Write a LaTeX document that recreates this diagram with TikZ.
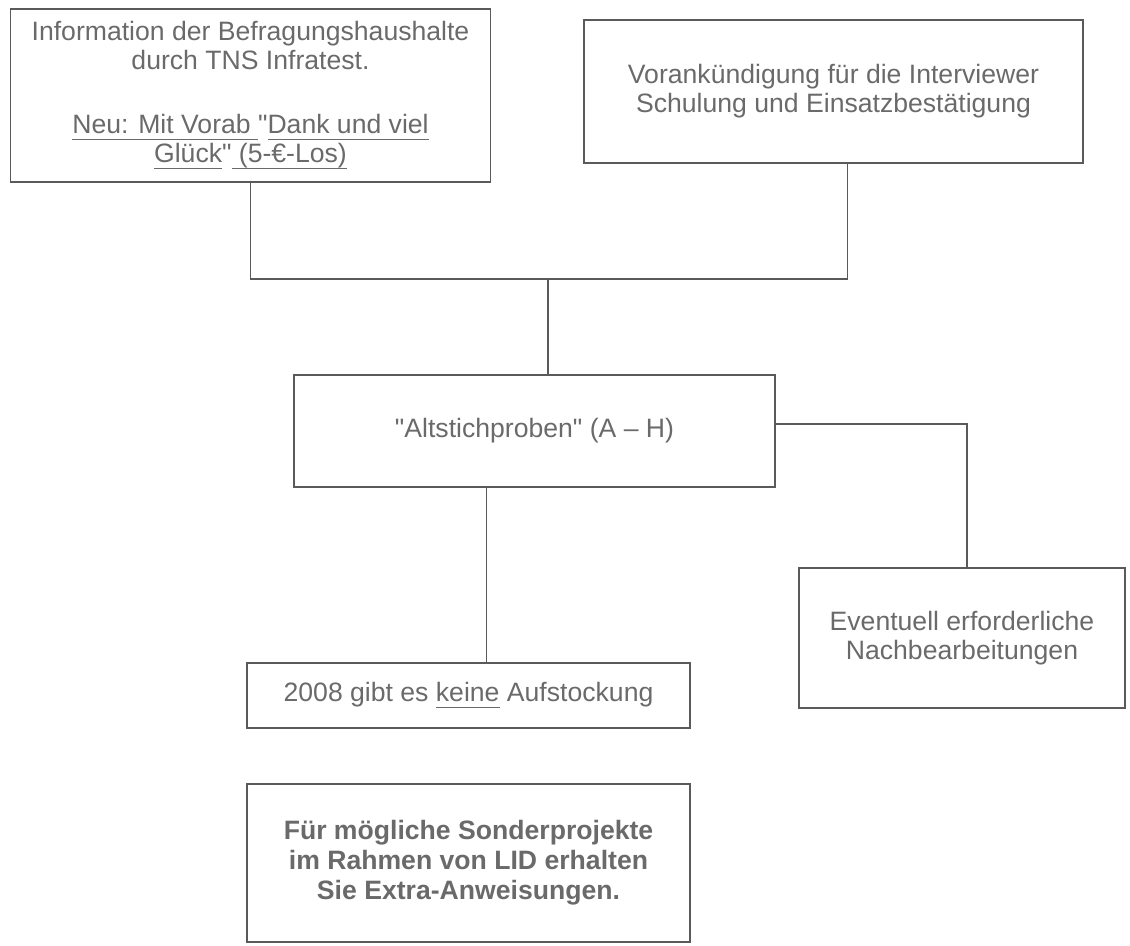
\documentclass[tikz,border=0pt]{standalone}
\usepackage{fontspec}
\setmainfont{Liberation Sans}[Ligatures=TeXOff]
\usepackage{tikz}
\usetikzlibrary{positioning, calc}
\definecolor{linecolor}{HTML}{5A5A5A}
\definecolor{textcolor}{HTML}{6A6A6A}
\newcommand{\uln}[1]{\underline{\smash{#1}\vphantom{,}}}

\begin{document}
\begin{tikzpicture}[
    x=0.5pt, y=-0.5pt, line width=0.9pt,
    box/.style={draw=linecolor, rectangle, align=center, text=textcolor, inner sep=0pt, font=\fontsize{13.3}{14.4}\selectfont},
    conn/.style={draw=linecolor}
]
    \useasboundingbox (0,0) rectangle (1130,946);

    % Top row
    \node[box, minimum width=240pt, minimum height=86.5pt] (info) at (250.5,95.5)
        {Information der Befragungshaushalte\\ durch TNS Infratest.\\[17.6pt]
         \uln{Neu: Mit Vorab }\symbol{34}\uln{Dank und viel}\\ \uln{Glück}\symbol{34}\uln{ (5-€-Los)}};
    \node[box, minimum width=249.5pt, minimum height=71.5pt] (ankuendigung) at (833.5,91.5)
        {Vorankündigung für die Interviewer\\ Schulung und Einsatzbestätigung};

    % Middle
    \coordinate (join) at (548,279);
    \node[box, minimum width=240.5pt, minimum height=56pt] (altstich) at (534.5,431)
        {\symbol{34}Altstichproben\symbol{34} (A – H)};
    \node[box, minimum width=163pt, minimum height=70pt] (nachbearb) at (962,638)
        {Eventuell erforderliche\\ Nachbearbeitungen};

    % Bottom
    \node[box, minimum width=221.5pt, minimum height=32.5pt] (aufstock) at (468.5,695.5)
        {2008 gibt es \uln{keine} Aufstockung};
    \node[box, minimum width=221.5pt, minimum height=79pt, font=\fontsize{13.3}{15}\selectfont\bfseries] (sonder) at (468.5,863)
        {Für mögliche Sonderprojekte\\ im Rahmen von LID erhalten\\ Sie Extra-Anweisungen.};

    % Connections
    \draw[conn] (info.south) |- (join) -| ([xshift=7pt]ankuendigung.south);
    \draw[conn] (join) -- (join |- altstich.north);
    \draw[conn] ([yshift=3.5pt]altstich.east) -| ([xshift=2.5pt]nachbearb.north);
    \draw[conn] ([xshift=9pt]aufstock.north) -- ([xshift=9pt]aufstock.north |- altstich.south);
\end{tikzpicture}
\end{document}
